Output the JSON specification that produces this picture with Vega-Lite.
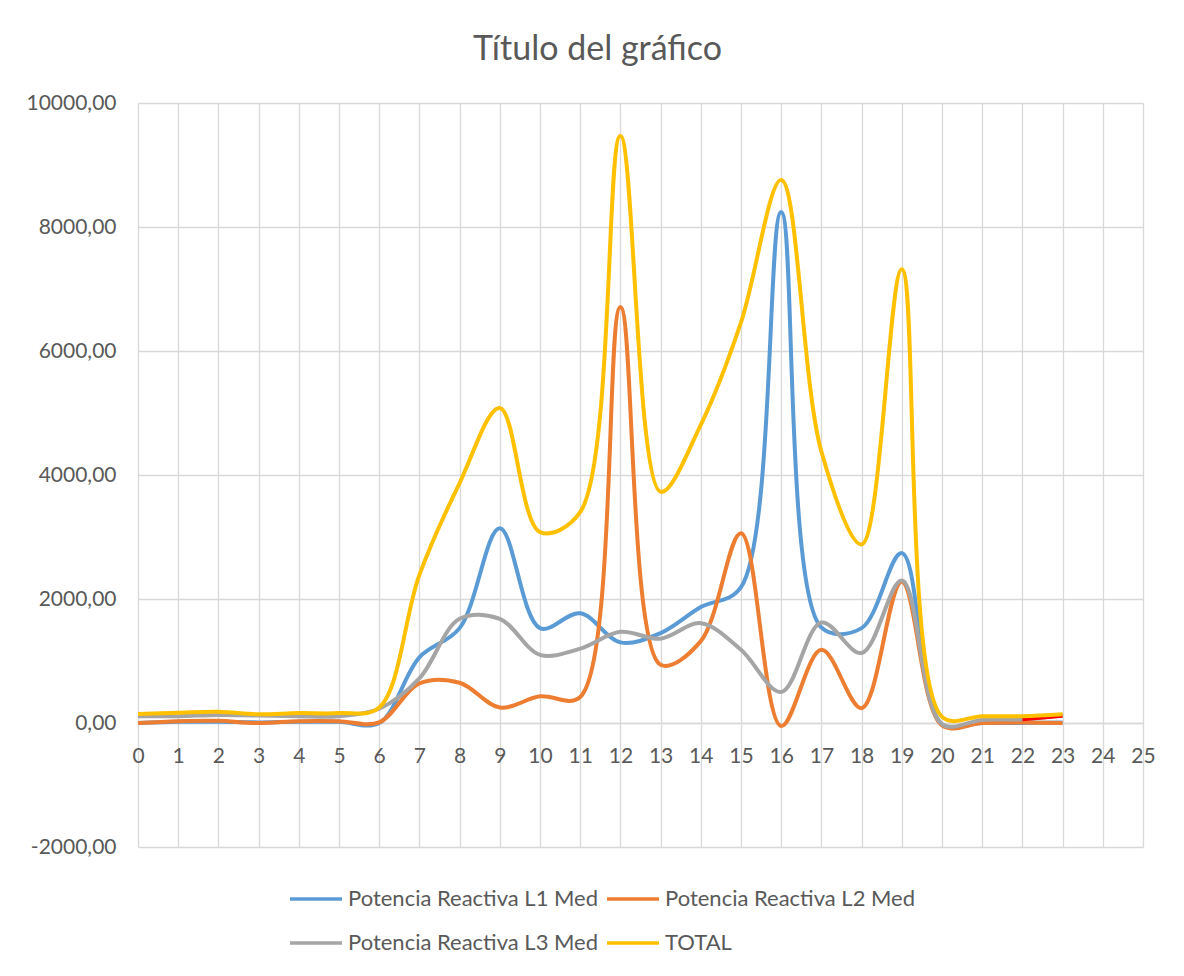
{
  "$schema": "https://vega.github.io/schema/vega-lite/v6.json",
  "width": 1005,
  "height": 744,
  "autosize": "none",
  "padding": {"left": 138, "top": 103, "right": 41, "bottom": 129},
  "background": "white",
  "title": {"text": "Título del gráfico", "fontSize": 34, "font": "Lato", "fontWeight": "normal", "color": "#595959", "dx": -43, "offset": 25},
  "data": {"values": [
    {"h":0,"s":"Potencia Reactiva L1 Med","v":0},{"h":1,"s":"Potencia Reactiva L1 Med","v":20},{"h":2,"s":"Potencia Reactiva L1 Med","v":20},{"h":3,"s":"Potencia Reactiva L1 Med","v":10},{"h":4,"s":"Potencia Reactiva L1 Med","v":20},{"h":5,"s":"Potencia Reactiva L1 Med","v":20},{"h":6,"s":"Potencia Reactiva L1 Med","v":0},{"h":7,"s":"Potencia Reactiva L1 Med","v":1060},{"h":8,"s":"Potencia Reactiva L1 Med","v":1530},{"h":9,"s":"Potencia Reactiva L1 Med","v":3140},{"h":10,"s":"Potencia Reactiva L1 Med","v":1530},{"h":11,"s":"Potencia Reactiva L1 Med","v":1770},{"h":12,"s":"Potencia Reactiva L1 Med","v":1300},{"h":13,"s":"Potencia Reactiva L1 Med","v":1450},{"h":14,"s":"Potencia Reactiva L1 Med","v":1870},{"h":15,"s":"Potencia Reactiva L1 Med","v":2190},{"h":16,"s":"Potencia Reactiva L1 Med","v":8240},{"h":17,"s":"Potencia Reactiva L1 Med","v":1540},{"h":18,"s":"Potencia Reactiva L1 Med","v":1530},{"h":19,"s":"Potencia Reactiva L1 Med","v":2740},{"h":20,"s":"Potencia Reactiva L1 Med","v":-20},{"h":21,"s":"Potencia Reactiva L1 Med","v":0},{"h":22,"s":"Potencia Reactiva L1 Med","v":0},{"h":23,"s":"Potencia Reactiva L1 Med","v":10},
    {"h":0,"s":"Potencia Reactiva L2 Med","v":0},{"h":1,"s":"Potencia Reactiva L2 Med","v":30},{"h":2,"s":"Potencia Reactiva L2 Med","v":35},{"h":3,"s":"Potencia Reactiva L2 Med","v":0},{"h":4,"s":"Potencia Reactiva L2 Med","v":30},{"h":5,"s":"Potencia Reactiva L2 Med","v":30},{"h":6,"s":"Potencia Reactiva L2 Med","v":10},{"h":7,"s":"Potencia Reactiva L2 Med","v":640},{"h":8,"s":"Potencia Reactiva L2 Med","v":650},{"h":9,"s":"Potencia Reactiva L2 Med","v":250},{"h":10,"s":"Potencia Reactiva L2 Med","v":430},{"h":11,"s":"Potencia Reactiva L2 Med","v":420},{"h":12,"s":"Potencia Reactiva L2 Med","v":6710},{"h":13,"s":"Potencia Reactiva L2 Med","v":940},{"h":14,"s":"Potencia Reactiva L2 Med","v":1320},{"h":15,"s":"Potencia Reactiva L2 Med","v":3060},{"h":16,"s":"Potencia Reactiva L2 Med","v":-50},{"h":17,"s":"Potencia Reactiva L2 Med","v":1180},{"h":18,"s":"Potencia Reactiva L2 Med","v":240},{"h":19,"s":"Potencia Reactiva L2 Med","v":2280},{"h":20,"s":"Potencia Reactiva L2 Med","v":-40},{"h":21,"s":"Potencia Reactiva L2 Med","v":0},{"h":22,"s":"Potencia Reactiva L2 Med","v":10},{"h":23,"s":"Potencia Reactiva L2 Med","v":0},
    {"h":0,"s":"Potencia Reactiva L3 Med","v":110},{"h":1,"s":"Potencia Reactiva L3 Med","v":110},{"h":2,"s":"Potencia Reactiva L3 Med","v":130},{"h":3,"s":"Potencia Reactiva L3 Med","v":120},{"h":4,"s":"Potencia Reactiva L3 Med","v":110},{"h":5,"s":"Potencia Reactiva L3 Med","v":110},{"h":6,"s":"Potencia Reactiva L3 Med","v":230},{"h":7,"s":"Potencia Reactiva L3 Med","v":720},{"h":8,"s":"Potencia Reactiva L3 Med","v":1680},{"h":9,"s":"Potencia Reactiva L3 Med","v":1680},{"h":10,"s":"Potencia Reactiva L3 Med","v":1100},{"h":11,"s":"Potencia Reactiva L3 Med","v":1200},{"h":12,"s":"Potencia Reactiva L3 Med","v":1470},{"h":13,"s":"Potencia Reactiva L3 Med","v":1360},{"h":14,"s":"Potencia Reactiva L3 Med","v":1610},{"h":15,"s":"Potencia Reactiva L3 Med","v":1180},{"h":16,"s":"Potencia Reactiva L3 Med","v":500},{"h":17,"s":"Potencia Reactiva L3 Med","v":1620},{"h":18,"s":"Potencia Reactiva L3 Med","v":1130},{"h":19,"s":"Potencia Reactiva L3 Med","v":2300},{"h":20,"s":"Potencia Reactiva L3 Med","v":-20},{"h":21,"s":"Potencia Reactiva L3 Med","v":50},{"h":22,"s":"Potencia Reactiva L3 Med","v":60},{"h":23,"s":"Potencia Reactiva L3 Med","v":120},
    {"h":22,"s":"Serie5","v":60},{"h":23,"s":"Serie5","v":115},
    {"h":0,"s":"TOTAL","v":145},{"h":1,"s":"TOTAL","v":165},{"h":2,"s":"TOTAL","v":180},{"h":3,"s":"TOTAL","v":140},{"h":4,"s":"TOTAL","v":160},{"h":5,"s":"TOTAL","v":160},{"h":6,"s":"TOTAL","v":250},{"h":7,"s":"TOTAL","v":2390},{"h":8,"s":"TOTAL","v":3870},{"h":9,"s":"TOTAL","v":5080},{"h":10,"s":"TOTAL","v":3080},{"h":11,"s":"TOTAL","v":3400},{"h":12,"s":"TOTAL","v":9470},{"h":13,"s":"TOTAL","v":3730},{"h":14,"s":"TOTAL","v":4810},{"h":15,"s":"TOTAL","v":6460},{"h":16,"s":"TOTAL","v":8760},{"h":17,"s":"TOTAL","v":4380},{"h":18,"s":"TOTAL","v":2880},{"h":19,"s":"TOTAL","v":7320},{"h":20,"s":"TOTAL","v":100},{"h":21,"s":"TOTAL","v":110},{"h":22,"s":"TOTAL","v":110},{"h":23,"s":"TOTAL","v":140}
  ]},
  "mark": {"type": "line", "interpolate": "catmull-rom", "strokeWidth": 4},
  "encoding": {
    "x": {"field": "h", "type": "quantitative",
      "scale": {"domain": [0, 25], "nice": false, "zero": false},
      "axis": {"title": null, "values": [0,1,2,3,4,5,6,7,8,9,10,11,12,13,14,15,16,17,18,19,20,21,22,23,24,25], "offset": -124, "ticks": false, "domainColor": "#d9d9d9", "domainWidth": 1.5, "grid": true, "gridColor": "#d9d9d9", "gridWidth": 1.3, "labelFontSize": 21, "labelFont": "Lato", "labelColor": "#595959", "labelPadding": 22, "labelOverlap": false, "labelFlush": false}},
    "y": {"field": "v", "type": "quantitative",
      "scale": {"domain": [-2000, 10000], "nice": false},
      "axis": {"title": null, "values": [-2000,0,2000,4000,6000,8000,10000], "format": ".2f", "domain": false, "ticks": false, "grid": true, "gridColor": "#d9d9d9", "gridWidth": 1.3, "labelFontSize": 21, "labelFont": "Lato", "labelColor": "#595959", "labelPadding": 22}},
    "color": {"field": "s", "type": "nominal",
      "scale": {"domain": ["Potencia Reactiva L1 Med", "Potencia Reactiva L2 Med", "Potencia Reactiva L3 Med", "Serie5", "TOTAL"], "range": ["#5B9BD5", "#ED7D31", "#A5A5A5", "#FF0000", "#FFC000"]},
      "legend": {"title": null, "values": ["Potencia Reactiva L1 Med", "Potencia Reactiva L2 Med", "Potencia Reactiva L3 Med", "TOTAL"], "orient": "none", "legendX": 150, "legendY": 768, "columns": 2, "direction": "horizontal", "symbolType": "stroke", "symbolSize": 2704, "symbolStrokeWidth": 3.5, "labelFontSize": 22, "labelFont": "Lato", "labelColor": "#595959", "labelLimit": 0, "labelOffset": 4, "columnPadding": 1, "rowPadding": 5}}
  },
  "config": {
    "view": {"stroke": null},
    "locale": {"number": {"decimal": ",", "thousands": ".", "grouping": [3], "currency": ["", " €"], "minus": "-"}}
  }
}
